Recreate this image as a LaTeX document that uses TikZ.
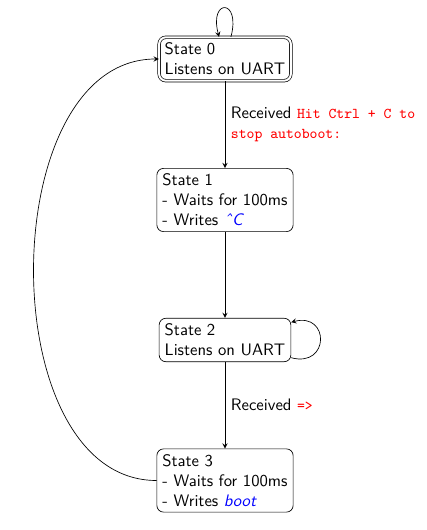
\documentclass[tikz,border=0pt]{standalone}
\begin{document}
\begin{tikzpicture}[x=1pt,y=1pt,>=stealth,
  stbox/.style={draw,rectangle,rounded corners,align=left,font=\sffamily},
  startbox/.style={stbox,double,double distance=1.2pt},
  lbl/.style={right,align=left,font=\sffamily},
  selfloop/.style={loop,distance=24pt}]
\definecolor{msgColor}{RGB}{255,0,0}
\definecolor{keyColor}{RGB}{0,0,255}
\path[use as bounding box] (0,0) rectangle (255.6,318.0);

% states
\node[startbox] (s0) at (135.0,282.6) {State 0\\Listens on UART};
\node[stbox] (s1) at (135.0,198.0) {State 1\\- Waits for 100ms\\- Writes \textcolor{keyColor}{\textit{\char"02C6 C}}};
\node[stbox] (s2) at (135.0,114.0) {State 2\\Listens on UART};
\node[stbox] (s3) at (135.0, 29.7) {State 3\\- Waits for 100ms\\- Writes \textcolor{keyColor}{\textit{boot}}};

% transitions
\draw[->] (s0) -- node[lbl] {Received \textcolor{msgColor}{\small\ttfamily Hit Ctrl + C to}\\\textcolor{msgColor}{\small\ttfamily stop autoboot:}} (s1);
\draw[->] (s1) -- (s2);
\draw[->] (s2) -- node[lbl] {Received \textcolor{msgColor}{\small\ttfamily =>}} (s3);
\draw[->] (s3) to[out=180,in=180] (s0);
\draw[->] (s0) to[selfloop,out=75,in=105] (s0);
\draw[->] (s2) to[selfloop,out=-15,in=15] (s2);
\end{tikzpicture}
\end{document}
